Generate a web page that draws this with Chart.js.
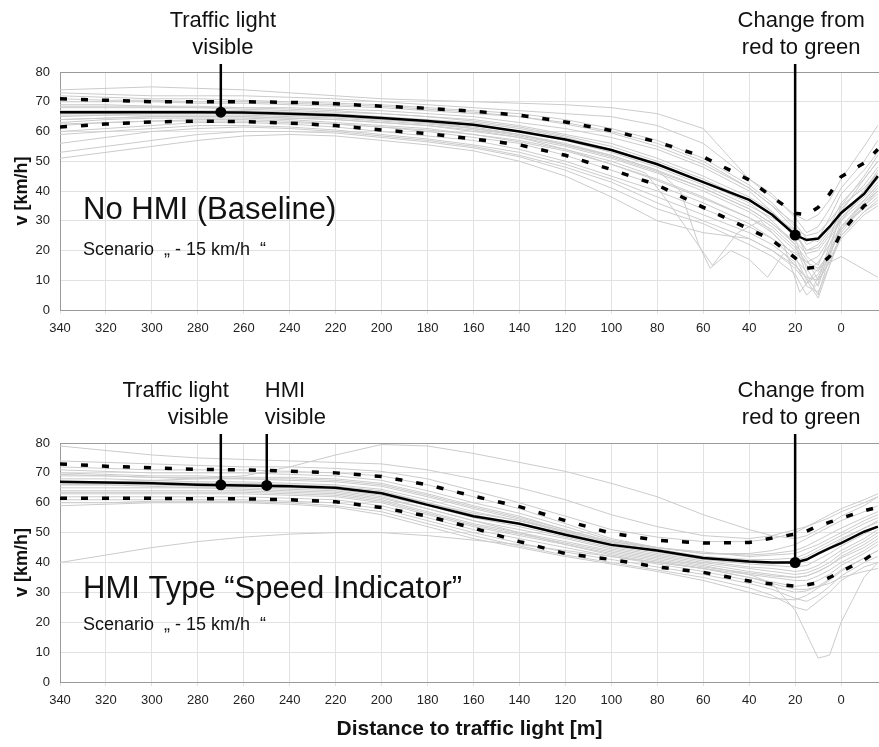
<!DOCTYPE html>
<html>
<head>
<meta charset="utf-8">
<script src="https://cdn.jsdelivr.net/npm/chart.js@4.4.0/dist/chart.umd.min.js"></script>
<style>
    body { margin: 0; background: #fff; }
    #wrap { position: relative; width: 879px; height: 747px; overflow: hidden; }
    canvas { position: absolute; left: 0; }
</style>
</head>
<body>
<div id="wrap">
    <canvas id="topChart" width="879" height="340" style="top:0"></canvas>
    <canvas id="bottomChart" width="879" height="397" style="top:350px"></canvas>
</div>
<script>
// distance to the traffic light [m], shared by every run
const distances = [340, 320, 300, 280, 260, 240, 220, 200, 180, 160, 140, 120, 100, 80, 60, 40, 30, 20, 15, 10, 5, 0, -10, -16];
const xTicks = [340, 320, 300, 280, 260, 240, 220, 200, 180, 160, 140, 120, 100, 80, 60, 40, 20, 0];

// ---- No HMI (Baseline) ----
const baseMean  = [66.5, 66.5, 66.5, 66.5, 66.4, 66, 65.5, 64.5, 63.5, 62.3, 60, 57.3, 53.8, 49, 43, 37, 32, 25.2, 23.5, 24, 28, 32.6, 39, 45];
const baseUpper = [71, 70.5, 70, 70, 70, 69.8, 69.3, 68.5, 67.8, 66.8, 65.5, 63.2, 60.3, 56.5, 51.5, 43.7, 38, 32.5, 32, 34.5, 39, 44.8, 49.4, 54];
const baseLower = [61.5, 62.5, 63.2, 63.5, 63.3, 62.8, 62, 60.5, 59.3, 57.5, 55.5, 52, 47.2, 42, 34.5, 27.2, 23.5, 17.5, 14, 14.5, 18, 26, 35, 38];
const baseRuns = [
    [74, 74.5, 75, 74.5, 74, 73, 72, 71, 70.5, 70, 69.5, 69, 68, 66, 61, 44, 38, 32, 30, 32, 37, 44, 55, 62],
    [73, 72.5, 72, 72, 72, 71.5, 71, 70, 69, 68, 67, 66, 65, 62, 56, 44, 39, 31, 26, 28, 34, 41, 50, 57],
    [72, 71.5, 71, 71, 70.5, 70, 69.5, 69, 68, 67, 66, 64, 61, 57, 51, 42, 36, 28, 22, 24, 31, 39, 47, 53],
    [70, 70, 70, 69.5, 69.5, 69, 68.5, 68, 67, 66, 65, 63, 60, 56, 50, 41, 35, 27, 18, 15, 24, 35, 45, 52],
    [69, 69, 68.5, 68.5, 68, 68, 67.5, 67, 66, 65, 63, 61, 58, 54, 48, 40, 33, 24, 14, 8, 20, 33, 44, 50],
    [68, 68, 68, 68, 67.5, 67, 66.5, 66, 65, 64, 62, 59, 56, 51, 45, 38, 33, 26, 20, 22, 27, 34, 42, 48],
    [67, 67, 67, 67, 67, 66.5, 66, 65, 64, 63, 61, 58, 54, 49, 43, 36, 30, 22, 12, 5, 18, 30, 40, 47],
    [66, 66, 66.5, 66.5, 66, 66, 65.5, 64.5, 63.5, 62, 60, 57, 53, 48, 42, 35, 31, 27, 25, 26, 30, 35, 41, 46],
    [65, 65.5, 66, 66, 66, 65.5, 65, 64, 63, 61.5, 59, 56, 52, 47, 41, 34, 29, 22, 17, 10, 22, 31, 39, 44],
    [64, 64.5, 65, 65, 65, 64.5, 64, 63, 62, 60.5, 58, 55, 51, 46, 40, 33, 28, 21, 16, 18, 24, 30, 37, 42],
    [63, 64, 64.5, 64.5, 64.5, 64, 63, 62, 61, 59, 57, 54, 49, 44, 38, 31, 26, 18, 10, 4, 15, 26, 35, 40],
    [62, 63, 63.5, 64, 64, 63.5, 62.5, 61.5, 60, 58, 56, 52, 47, 42, 36, 29, 24, 17, 13, 16, 22, 28, 34, 38],
    [60, 61, 62, 63, 63, 62.5, 61.5, 60, 58.5, 57, 54, 50, 45, 40, 34, 28, 24, 19, 16, 14, 19, 27, 36, 41],
    [59, 60, 61, 62, 62, 61.5, 60.5, 59, 57.5, 55.5, 53, 49, 44, 38, 32, 26, 22, 16, 8, 6, 15, 25, 33, 37],
    [56, 58, 60, 61, 61.5, 61, 60, 58.5, 57, 55, 52, 48, 43, 36, 30, 24, 20, 14, 9, 12, 19, 27, 35, 39],
    [53, 55, 57, 59, 60, 60, 59.5, 58, 56.5, 54.5, 51.5, 47, 41, 34, 29, 22, 18, 12, 5, 9, 17, 25, 33, 36],
    [51, 53, 55, 57, 58.5, 59, 58.5, 57, 55.5, 53.5, 50, 45, 38, 30, 26, 24, 20, 15, 11, 10, 16, 24, 32, 35],
    [68.5, 68.5, 68.5, 68, 68, 67.5, 67, 66, 65, 63.5, 61.5, 58.5, 55, 50, 44, 37, 32, 25, 20, 21, 26, 32, 40, 46],
    [65.5, 65.5, 65.5, 65.5, 65.5, 65, 64.5, 63.5, 62.5, 61, 58.5, 55.5, 51.5, 46.5, 41, 34, 29, 23, 19, 20, 25, 31, 38, 43],
    [71, 70.5, 70.5, 70, 70, 69.5, 69, 68.5, 67.5, 66.5, 65, 62.5, 59.5, 55, 49, 41, 35, 29, 24, 23, 28, 36, 44, 50],
    [62.5, 63, 63.5, 63.5, 63.5, 63, 62.5, 61.5, 60.5, 59, 56.5, 53.5, 49, 43.5, 37.5, 31, 27, 20, 15, 13, 20, 28, 36, 40]
];
// two runs with their own sampling (sudden braking)
const baseOddDistA  = [340, 300, 260, 220, 180, 140, 100, 80, 70, 62, 57, 48, 40, 32, 25, 20, 12, 5, 0, -16];
const baseOddSpeedA = [66, 66.5, 66, 65, 63, 59, 52, 47, 40, 22, 14, 20, 17, 11, 19, 15, 8, 18, 28, 42];
const baseOddDistB  = [340, 300, 260, 220, 180, 140, 100, 85, 75, 56, 45, 35, 25, 18, 10, 0, -16];
const baseOddSpeedB = [64, 65, 65, 64, 62, 58, 50, 46, 36, 15, 26, 30, 22, 6, 14, 18, 11];

const baseEventDist  = [270, 20];
const baseEventSpeed = [66.5, 25.2];

// ---- HMI Type "Speed Indicator" ----
const hmiMean  = [67, 66.8, 66.5, 66, 65.8, 65.5, 65, 63.2, 59.3, 55.5, 53, 49.3, 45.9, 44, 41.5, 40.3, 40, 40, 41, 43, 44.8, 46.5, 50.3, 52];
const hmiUpper = [73, 72.2, 71.7, 71.2, 71, 70.6, 70, 68.8, 66, 62.2, 58.7, 54, 49.8, 47.4, 46.5, 46.7, 48.2, 49.5, 50.5, 52.2, 53.5, 54.8, 57.3, 58.5];
const hmiLower = [61.5, 61.5, 61.5, 61.3, 61.3, 61, 60.3, 58.4, 55.5, 51.5, 47, 43, 41, 38.5, 36.7, 33.8, 32.8, 32.1, 32.5, 33.2, 35, 37, 40.8, 44];
const hmiRuns = [
    [79, 77.5, 76, 75, 74.5, 74, 73.5, 73, 71, 68, 65, 61, 56, 52, 49, 48, 49, 51, 52, 54, 56, 58, 61, 63],
    [74, 73.5, 73, 72.5, 72, 72, 71.5, 70.5, 68, 64, 60, 55.5, 51, 48.5, 47, 47, 48, 50, 52, 53.5, 55, 57, 60, 62],
    [72, 71.5, 71, 71, 71, 70.5, 70, 69, 66, 62, 58, 53, 48, 45, 43, 43, 44, 46, 48, 50, 52, 54, 57, 59],
    [71, 70.5, 70, 70, 70, 69.5, 69, 67.5, 64, 60, 56.5, 52, 47.5, 45, 43.5, 42, 42.5, 43, 44.5, 46, 48, 50, 54, 56],
    [70, 69.5, 69, 69, 68.5, 68.5, 68, 66.5, 63, 59, 55.5, 51, 47, 44.5, 42, 41, 41, 41.5, 43, 45, 47, 49, 53, 55],
    [69, 69, 68.5, 68, 68, 67.5, 67, 65.5, 62, 58, 54.5, 50.5, 46.5, 44, 41.5, 40, 39.5, 40, 41, 43, 45, 47.5, 51.5, 54],
    [68, 68, 67.5, 67, 67, 66.5, 66, 64.5, 61, 57, 54, 50, 46, 43.5, 41, 39.5, 39, 38.5, 39, 41, 43, 45.5, 49.5, 52],
    [67, 67, 67, 66.5, 66.5, 66, 65.5, 64, 60, 56, 53, 49, 45.5, 43, 40.5, 38.5, 38, 37, 37.5, 39, 41.5, 44, 48, 51],
    [66, 66, 66, 65.5, 65.5, 65, 64.5, 62.5, 59, 55, 52, 48.5, 45, 42.5, 40, 38, 37, 36, 36.5, 38, 40, 43, 47, 50],
    [65, 65, 65, 65, 64.5, 64, 63.5, 61.5, 58, 54, 51, 48, 44.5, 42, 39.5, 37, 36, 35, 35.5, 37, 39, 42, 46, 49],
    [64, 64, 64, 64, 64, 63.5, 63, 61, 57, 53, 50, 47, 44, 41.5, 39, 36, 35, 34, 34, 35.5, 37.5, 40, 44, 47],
    [63, 63, 63, 63, 63, 62.5, 62, 60, 56, 52, 49, 46, 43, 40.5, 38, 35, 33.5, 32, 32.5, 34, 36, 39, 43, 46],
    [62, 62, 62, 62, 62, 61.5, 61, 59, 55, 51, 48, 45, 42, 39.5, 37, 34, 32, 30, 30.5, 32, 34.5, 37.5, 41.5, 44],
    [61, 61, 61, 61, 61, 60.5, 60, 58, 54, 50, 46.5, 43.5, 41, 38.5, 36, 33, 31, 28, 27, 29, 32, 35.5, 40, 42],
    [60, 60, 60.5, 60.5, 60.5, 60, 59, 57, 53, 49, 45.5, 42.5, 40, 37.5, 35, 31.5, 29, 25, 24, 27, 30, 34, 38.5, 40],
    [40, 42.5, 45, 47, 48.5, 49.5, 50, 50, 49, 47.5, 46, 44, 42, 40, 38, 35, 33, 31, 31, 32, 33, 35, 37, 38],
    [66, 66, 65.5, 65, 65, 64.5, 64, 62, 58, 54, 50, 46, 42.5, 40, 38, 36, 33, 24, 16, 8, 9, 20, 35, 40],
    [67, 67, 67.5, 68, 69, 72, 76, 79.5, 79, 76.5, 73.5, 70.5, 66.5, 62, 56, 51, 49, 48, 49, 51, 53, 55.5, 59, 62],
    [66.5, 66.5, 66.5, 66, 66, 65.5, 65, 63.5, 60, 56.5, 54, 50.5, 46.5, 44, 42, 40.5, 40, 40.5, 42, 44, 46, 48, 51.5, 53.5],
    [69.5, 69, 68.5, 68.5, 68, 68, 67.5, 66, 62.5, 58.5, 55, 51, 47, 45, 43, 42.5, 43, 44, 45.5, 47.5, 49.5, 51.5, 55, 57],
    [63.5, 63.5, 63.5, 63.5, 63.5, 63, 62.5, 60.5, 56.5, 52.5, 49.5, 46.5, 43.5, 41, 38.5, 36.5, 35.5, 35, 35.5, 37, 39, 41.5, 45, 48],
    [59, 59.5, 60, 60, 60, 59.5, 58.5, 56, 52, 48, 45, 42, 39.5, 37, 34, 30, 28, 27.5, 29, 31.5, 34, 37, 41.5, 44]
];

const hmiEventDist  = [270, 250, 20];
const hmiEventSpeed = [66, 65.8, 40];

const FONT = '"Liberation Sans", Arial, sans-serif';

function series(xs, ys) {
    return xs.map((x, i) => ({ x: x, y: ys[i] }));
}

function runDataset(xs, ys) {
    return { data: series(xs, ys), borderColor: '#cbcbcb', borderWidth: 1, pointRadius: 0, order: 3 };
}

function bandDataset(ys) {
    return {
        data: series(distances, ys), borderColor: '#000', borderWidth: 3.5,
        borderDash: [7, 14], borderCapStyle: 'butt', pointRadius: 0, order: 2
    };
}

// texts, event lines and dots
const markPlugin = {
    id: 'marks',
    afterDatasetsDraw(chart, args, opts) {
        const ctx = chart.ctx;
        const area = chart.chartArea;
        const xScale = chart.scales.x;
        const yScale = chart.scales.y;
        ctx.save();
        ctx.fillStyle = '#111';
        ctx.textBaseline = 'alphabetic';
        ctx.textAlign = 'left';
        ctx.font = '31px ' + FONT;
        ctx.fillText(opts.caption, area.left + 23, area.top + opts.captionDy);
        ctx.font = '18px ' + FONT;
        ctx.fillText(opts.scenario, area.left + 23, area.top + opts.scenarioDy);

        opts.dist.forEach((d, i) => {
            const px = xScale.getPixelForValue(d);
            const py = yScale.getPixelForValue(opts.speed[i]);
            const lab = opts.labels[i];
            ctx.font = '22px ' + FONT;
            ctx.textAlign = lab.align;
            lab.lines.forEach((t, k) => ctx.fillText(t, px + lab.dx, opts.textY + k * 27));
            ctx.strokeStyle = '#000';
            ctx.lineWidth = 2.5;
            ctx.beginPath();
            ctx.moveTo(px, opts.textY + 37);
            ctx.lineTo(px, py);
            ctx.stroke();
            ctx.beginPath();
            ctx.arc(px, py, 5.5, 0, Math.PI * 2);
            ctx.fillStyle = '#000';
            ctx.fill();
            ctx.fillStyle = '#111';
        });
        ctx.restore();
    }
};

function makeChart(id, mean, upper, lower, runs, extraRuns, marks, padTop, xTitle, xHeight) {
    const datasets = [
        { data: series(distances, mean), borderColor: '#000', borderWidth: 2.5, pointRadius: 0, order: 1 },
        bandDataset(upper),
        bandDataset(lower)
    ];
    runs.forEach(r => datasets.push(runDataset(distances, r)));
    extraRuns.forEach(r => datasets.push(runDataset(r[0], r[1])));

    const gridColor = c => (c.tick && (c.tick.value === 80 || c.tick.value === 0)) ? '#9a9a9a' : '#e2e2e2';

    return new Chart(document.getElementById(id).getContext('2d'), {
        type: 'line',
        data: { datasets: datasets },
        plugins: [markPlugin],
        options: {
            responsive: false,
            animation: false,
            devicePixelRatio: 1,
            layout: { padding: { top: padTop, left: 0, right: 0, bottom: 0 } },
            plugins: { legend: { display: false }, tooltip: { enabled: false }, marks: marks },
            elements: { line: { tension: 0 } },
            scales: {
                x: {
                    type: 'linear', reverse: true, min: -16.5, max: 340,
                    afterBuildTicks: axis => { axis.ticks = xTicks.map(v => ({ value: v })); },
                    afterFit: axis => { axis.height = xHeight; },
                    ticks: { autoSkip: false, maxRotation: 0, padding: 7, color: '#222', font: { family: FONT, size: 13 } },
                    grid: { color: '#e2e2e2', tickLength: 4 },
                    border: { color: '#9a9a9a' },
                    title: {
                        display: !!xTitle, text: xTitle || '', color: '#111',
                        font: { family: FONT, size: 21, weight: 'bold' }, padding: { top: 0, bottom: 5 }
                    }
                },
                y: {
                    min: 0, max: 80,
                    afterFit: axis => { axis.width = 60; },
                    ticks: { stepSize: 10, padding: 10, color: '#222', font: { family: FONT, size: 13 } },
                    grid: { color: gridColor, drawTicks: false },
                    border: { color: '#9a9a9a' },
                    title: {
                        display: true, text: 'v [km/h]', color: '#111',
                        font: { family: FONT, size: 18, weight: 'bold' }, padding: { top: 11, bottom: 0 }
                    }
                }
            }
        }
    });
}

makeChart('topChart', baseMean, baseUpper, baseLower, baseRuns,
    [[baseOddDistA, baseOddSpeedA], [baseOddDistB, baseOddSpeedB]],
    {
        caption: 'No HMI (Baseline)', captionDy: 147,
        scenario: 'Scenario  \u201E - 15 km/h  \u201C', scenarioDy: 183,
        dist: baseEventDist, speed: baseEventSpeed, textY: 27,
        labels: [
            { lines: ['Traffic light', 'visible'], align: 'center', dx: 2 },
            { lines: ['Change from', 'red to green'], align: 'center', dx: 6 }
        ]
    }, 72, null, 30);

makeChart('bottomChart', hmiMean, hmiUpper, hmiLower, hmiRuns, [],
    {
        caption: 'HMI Type \u201CSpeed Indicator\u201D', captionDy: 155,
        scenario: 'Scenario  \u201E - 15 km/h  \u201C', scenarioDy: 187,
        dist: hmiEventDist, speed: hmiEventSpeed, textY: 47,
        labels: [
            { lines: ['Traffic light', 'visible'], align: 'right', dx: 8 },
            { lines: ['HMI', 'visible'], align: 'left', dx: -2 },
            { lines: ['Change from', 'red to green'], align: 'center', dx: 6 }
        ]
    }, 93, 'Distance to traffic light [m]', 65);
</script>
</body>
</html>
